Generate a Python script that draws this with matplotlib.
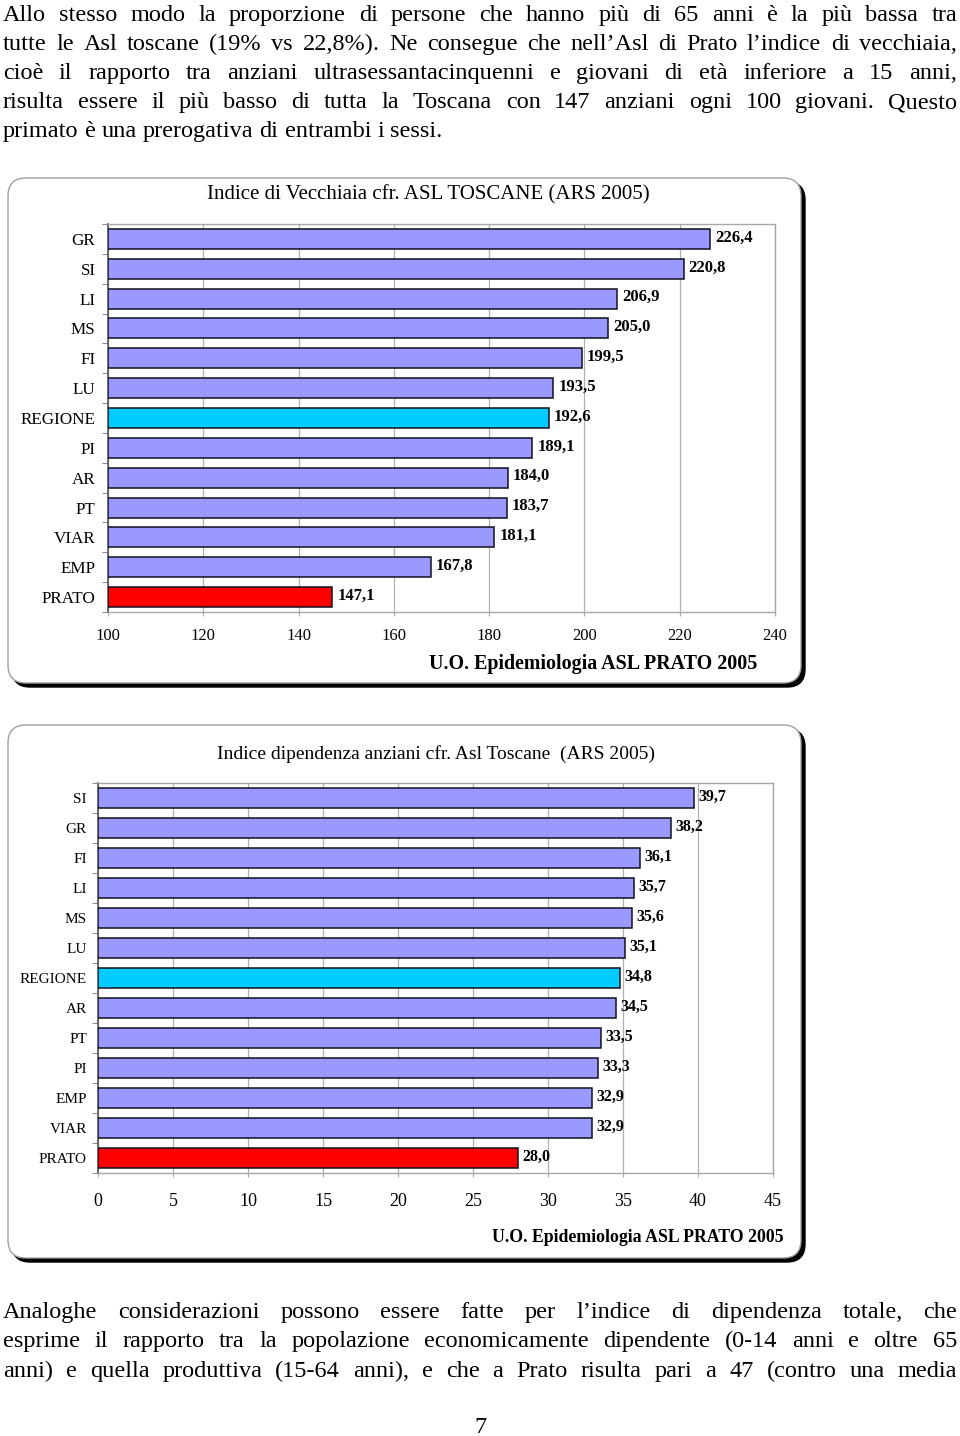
import matplotlib
matplotlib.use('Agg')
import matplotlib.pyplot as plt
import numpy as np
from matplotlib.patches import FancyBboxPatch

SERIF = ['Liberation Serif', 'DejaVu Serif']

# data
vec_labels = ['GR', 'SI', 'LI', 'MS', 'FI', 'LU', 'REGIONE', 'PI', 'AR', 'PT', 'VIAR', 'EMP', 'PRATO']
vec_values = [226.4, 220.8, 206.9, 205.0, 199.5, 193.5, 192.6, 189.1, 184.0, 183.7, 181.1, 167.8, 147.1]

dip_labels = ['SI', 'GR', 'FI', 'LI', 'MS', 'LU', 'REGIONE', 'AR', 'PT', 'PI', 'EMP', 'VIAR', 'PRATO']
dip_values = [39.7, 38.2, 36.1, 35.7, 35.6, 35.1, 34.8, 34.5, 33.5, 33.3, 32.9, 32.9, 28.0]

top_par = [
    "Allo stesso modo la proporzione di persone che hanno più di 65 anni è la più bassa tra",
    "tutte le Asl toscane (19% vs 22,8%). Ne consegue che nell’Asl di Prato l’indice di vecchiaia,",
    "cioè il rapporto tra anziani ultrasessantacinquenni e giovani di età inferiore a 15 anni,",
    "risulta essere il più basso di tutta la Toscana con 147 anziani ogni 100 giovani. Questo",
    "primato è una prerogativa di entrambi i sessi.",
]
bottom_par = [
    "Analoghe considerazioni possono essere fatte per l’indice di dipendenza totale, che",
    "esprime il rapporto tra la popolazione economicamente dipendente (0-14 anni e oltre 65",
    "anni) e quella produttiva (15-64 anni), e che a Prato risulta pari a 47 (contro una media",
]

W, H = 960, 1436
fig = plt.figure(figsize=(W / 100, H / 100), dpi=100)
fig.patch.set_facecolor('white')

# background axes in pixel units
bg = fig.add_axes([0, 0, 1, 1], zorder=0)
bg.set_xlim(0, W)
bg.set_ylim(H, 0)
bg.axis('off')

renderer = fig.canvas.get_renderer()


def write_line(line, y, x0=3, x1=957, size=17.5, justify=True):
    words = line.split()
    texts = [bg.text(0, y, w, fontsize=size, family=SERIF, va='baseline', ha='left')
             for w in words]
    widths = [t.get_window_extent(renderer).width for t in texts]
    if justify and len(words) > 1:
        gap = (x1 - x0 - sum(widths)) / (len(words) - 1)
    else:
        gap = size * 0.25 * 100 / 72
    x = x0
    for t, w in zip(texts, widths):
        t.set_x(x)
        x += w + gap


for i, line in enumerate(top_par):
    write_line(line, 21 + i * 29.1, justify=(i < len(top_par) - 1))
for i, line in enumerate(bottom_par):
    write_line(line, 1318 + i * 29.3)
bg.text(480, 1433, '7', fontsize=17.5, family=SERIF, ha='center', va='baseline')


def box(x0, y0, x1, y1):
    shadow = FancyBboxPatch((x0 + 4, y0 + 4), x1 - x0, y1 - y0,
                            boxstyle='round,pad=0,rounding_size=18',
                            fc='black', ec='black', lw=1, zorder=1)
    front = FancyBboxPatch((x0, y0), x1 - x0, y1 - y0,
                           boxstyle='round,pad=0,rounding_size=18',
                           fc='white', ec='#a0a0a0', lw=1, zorder=2)
    bg.add_patch(shadow)
    bg.add_patch(front)


box(8, 178, 801, 683)
box(8, 725, 801, 1258)


def bar_chart(px, labels, values, xmin, xmax, step, cat_size, cat_pad, tick_size, tick_pad, val_size):
    l, r, t, b = px
    ax = fig.add_axes([l / W, 1 - b / H, (r - l) / W, (b - t) / H], zorder=2)
    ax.set_facecolor('none')
    n = len(labels)
    y = np.arange(n)
    colors = ['#00CCFF' if c == 'REGIONE' else '#FF0000' if c == 'PRATO' else '#9999FF'
              for c in labels]
    widths = [v - xmin for v in values]
    ax.barh(y, widths, left=xmin, height=0.67, color=colors, edgecolor='#111122',
            linewidth=1.1, zorder=3)
    for yi, v in zip(y, values):
        ax.annotate(f"{v:.1f}".replace('.', ','), (v, yi), xytext=(3.5, 1),
                    textcoords='offset points', ha='left', va='center',
                    fontsize=val_size, fontweight='bold', family=SERIF, zorder=4)
    ax.set_xlim(xmin, xmax)
    ax.set_ylim(n - 0.5, -0.5)
    ax.set_xticks(np.arange(xmin, xmax + step / 2, step))
    ax.set_yticks(y, labels)
    ax.set_yticks(np.arange(-0.5, n, 1), minor=True)
    ax.grid(axis='x', color='#b0b0b0', linewidth=0.9, zorder=0)
    ax.set_axisbelow(True)
    for s in ['top', 'right', 'bottom']:
        ax.spines[s].set_color('#a8a8a8')
        ax.spines[s].set_linewidth(1)
    ax.spines['left'].set_color('#555555')
    ax.spines['left'].set_linewidth(1.2)
    ax.tick_params(axis='y', which='major', length=0, pad=cat_pad, labelsize=cat_size)
    ax.tick_params(axis='y', which='minor', length=4, color='#777777', direction='out')
    ax.tick_params(axis='x', length=3, color='#a8a8a8', pad=tick_pad, labelsize=tick_size)
    for lab in ax.get_xticklabels() + ax.get_yticklabels():
        lab.set_family(SERIF)
    return ax


bar_chart((108, 775, 224, 612), vec_labels, vec_values, 100, 240, 20,
          cat_size=12.3, cat_pad=9, tick_size=12, tick_pad=8.5, val_size=12)
bg.text(428, 195, 'Indice di Vecchiaia cfr. ASL TOSCANE (ARS 2005)', fontsize=15,
        family=SERIF, ha='center', va='center', zorder=3)
bg.text(593, 664, 'U.O. Epidemiologia ASL PRATO 2005', fontsize=14.4, fontweight='bold',
        family=SERIF, ha='center', va='center', zorder=3)

bar_chart((98, 773, 783, 1173), dip_labels, dip_values, 0, 45, 5,
          cat_size=11, cat_pad=8, tick_size=13, tick_pad=11.5, val_size=11.5)
bg.text(436, 754, 'Indice dipendenza anziani cfr. Asl Toscane  (ARS 2005)', fontsize=14,
        family=SERIF, ha='center', va='center', zorder=3)
bg.text(784, 1238, 'U.O. Epidemiologia ASL PRATO 2005', fontsize=12.8, fontweight='bold',
        family=SERIF, ha='right', va='center', zorder=3)

fig.savefig('out.png', dpi=100, facecolor='white')
